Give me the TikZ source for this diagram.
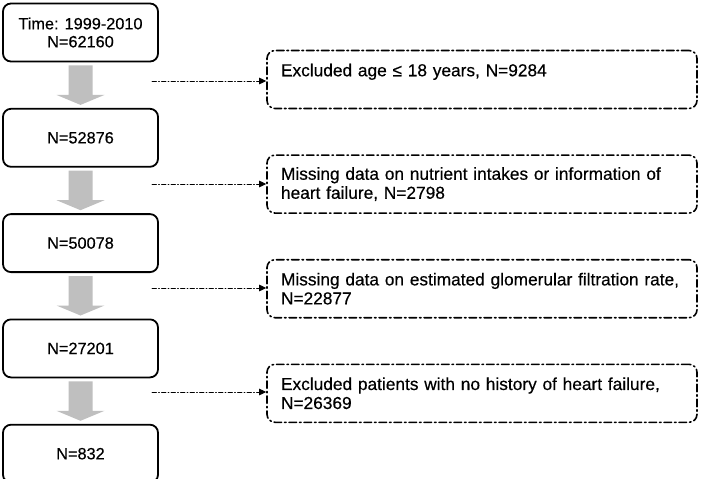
\documentclass[tikz,border=0pt]{standalone}
\usepackage{fontspec}
\setmainfont{Liberation Sans}[FakeBold=0.4]
\usetikzlibrary{positioning,calc,arrows.meta}

\begin{document}
\begin{tikzpicture}[x=1pt, y=-1pt, line cap=round,
		stagebox/.style={draw, line width=1.8pt, rounded corners=8pt, minimum width=155pt, minimum height=58pt, align=center, inner sep=0pt, font=\fontsize{16.3}{18}\selectfont},
		exclbox/.style={draw, line width=1.6pt, rounded corners=8pt, dash pattern=on 7.5pt off 3pt on 1.5pt off 3pt, minimum width=430pt, minimum height=58pt, text width=402pt, align=left, inner sep=0pt, font=\fontsize{17.3}{19}\selectfont},
		exclarrow/.style={line width=0.9pt, dash pattern=on 4.5pt off 2pt on 1pt off 2pt, -{Triangle[length=7pt,width=6.5pt]}},
		flowarrow/.style={fill=black!25}]
		\useasboundingbox (0,0) rectangle (702,479);
		
		% main stages
		\node[stagebox] (n1) at (80.5,32.5) {Time: 1999-2010\\N=62160};
		\node[stagebox, below=45.5pt of n1] (n2) {N=52876};
		\node[stagebox, below=45.5pt of n2] (n3) {N=50078};
		\node[stagebox, below=45.5pt of n3] (n4) {N=27201};
		\node[stagebox, below=45.5pt of n4] (n5) {N=832};
		
		% exclusions
		\node[exclbox] (ex1) at (482,79.5) {Excluded age ≤ 18 years, N=9284\\~};
		\node[exclbox, below=45pt of ex1] (ex2) {Missing data on nutrient intakes or information of heart failure, N=2798};
		\node[exclbox, below=45pt of ex2] (ex3) {Missing data on estimated glomerular filtration rate, N=22877};
		\node[exclbox, below=45pt of ex3] (ex4) {Excluded patients with no history of heart failure, N=26369};
		
		\foreach \a/\b in {n1/n2,n2/n3,n3/n4,n4/n5}
			\fill[flowarrow] ($(\a.south)+(-12,3)$) -- ($(\a.south)+(12,3)$) -- ($(\b.north)+(12,-13)$) -- ($(\b.north)+(24,-13)$) -- ($(\b.north)+(0,-3)$) -- ($(\b.north)+(-24,-13)$) -- ($(\b.north)+(-12,-13)$) -- cycle;
		
		\coordinate (c1) at (152,81);
		\coordinate (c2) at (152,184);
		\coordinate (c3) at (152,288);
		\coordinate (c4) at (152,392);
		\foreach \i in {1,...,4}
			\draw[exclarrow] (c\i) -- (c\i -| ex\i.west);
\end{tikzpicture}
\end{document}
